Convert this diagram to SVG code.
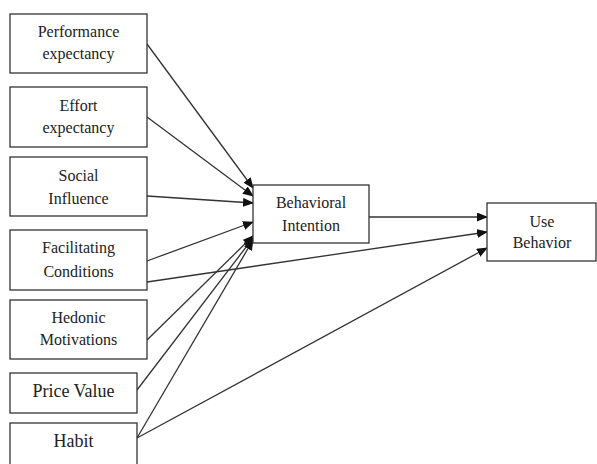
<svg xmlns="http://www.w3.org/2000/svg" width="597" height="464" viewBox="0 0 597 464">
<style>
.box{fill:#fff;stroke:#333;stroke-width:1.3}
.t{font-family:"Liberation Serif","Times New Roman",serif;font-size:16px;fill:#222;text-anchor:middle}
.tl{font-size:18px}
.c{stroke:#333;stroke-width:1.3;fill:none;marker-end:url(#ah)}
</style>
<defs>
<marker id="ah" markerWidth="11" markerHeight="9" refX="10" refY="4.5" orient="auto" markerUnits="userSpaceOnUse">
<path d="M0,0 L11,4.5 L0,9 Z" fill="#111"/>
</marker>
</defs>
<rect width="597" height="464" fill="#fff"/>
<g id="connectors">
<line class="c" x1="147" y1="44" x2="253" y2="188"/>
<line class="c" x1="147" y1="117" x2="253" y2="196"/>
<line class="c" x1="147" y1="196" x2="253" y2="203"/>
<line class="c" x1="147" y1="261" x2="253" y2="222"/>
<line class="c" x1="147" y1="340" x2="253" y2="236"/>
<line class="c" x1="137" y1="390" x2="253" y2="238"/>
<line class="c" x1="137" y1="438" x2="253" y2="240"/>
<line class="c" x1="369" y1="217" x2="487" y2="217"/>
<line class="c" x1="147" y1="282" x2="487" y2="232"/>
<line class="c" x1="137" y1="438" x2="487" y2="248"/>
</g>
<g id="performance"><rect class="box" x="10" y="14" width="137" height="59"/><text class="t" x="78.5" y="37">Performance</text><text class="t" x="78.5" y="59">expectancy</text></g>
<g id="effort"><rect class="box" x="10" y="87" width="137" height="60"/><text class="t" x="78.5" y="111">Effort</text><text class="t" x="78.5" y="133">expectancy</text></g>
<g id="social"><rect class="box" x="10" y="157" width="137" height="59"/><text class="t" x="78.5" y="181">Social</text><text class="t" x="78.5" y="204">Influence</text></g>
<g id="facilitating"><rect class="box" x="10" y="230" width="137" height="60"/><text class="t" x="78.5" y="253">Facilitating</text><text class="t" x="78.5" y="277">Conditions</text></g>
<g id="hedonic"><rect class="box" x="10" y="300" width="137" height="59"/><text class="t" x="78.5" y="323">Hedonic</text><text class="t" x="78.5" y="345">Motivations</text></g>
<g id="price"><rect class="box" x="10" y="373" width="127" height="40"/><text class="t tl" x="73.5" y="397">Price Value</text></g>
<g id="habit"><rect class="box" x="10" y="423" width="127" height="50"/><text class="t tl" x="73.5" y="447">Habit</text></g>
<g id="intention"><rect class="box" x="253" y="185" width="116" height="58"/><text class="t" x="311" y="208">Behavioral</text><text class="t" x="311" y="231">Intention</text></g>
<g id="use"><rect class="box" x="487" y="203" width="109" height="58"/><text class="t" x="542" y="227">Use</text><text class="t" x="542" y="248">Behavior</text></g>
</svg>
